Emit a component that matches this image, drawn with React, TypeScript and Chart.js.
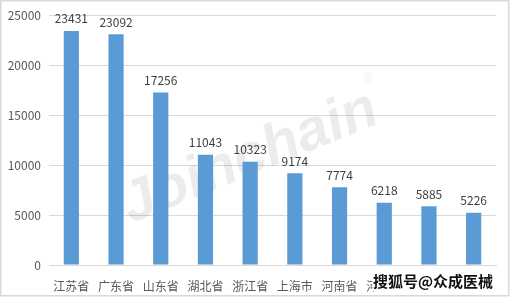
import React, { useEffect, useRef } from "react";
import { Chart, registerables } from "chart.js";

Chart.register(...registerables);

const categories = ["江苏省", "广东省", "山东省", "湖北省", "浙江省", "上海市", "河南省", "河北省", "北京市", "湖南省"];
const values = [23431, 23092, 17256, 11043, 10323, 9174, 7774, 6218, 5885, 5226];
const yTicks = [0, 5000, 10000, 15000, 20000, 25000];

const FONT = '"Noto Sans CJK SC", "Microsoft YaHei", sans-serif';

const framePlugin = {
  id: "frame",
  beforeDraw(chart: any) {
    const { ctx, width, height } = chart;
    ctx.save();
    ctx.fillStyle = "#ffffff";
    ctx.fillRect(0, 0, width, height);
    ctx.strokeStyle = "#d9d9d9";
    ctx.lineWidth = 1.5;
    ctx.strokeRect(0.75, 0.75, width - 3, height - 3);
    ctx.restore();
  },
  beforeDatasetsDraw(chart: any) {
    const { ctx } = chart;
    ctx.save();
    ctx.translate(250, 158);
    ctx.rotate((-22 * Math.PI) / 180);
    ctx.fillStyle = "rgba(0,0,0,0.075)";
    ctx.font = 'italic bold 58px "Liberation Sans", Arial, sans-serif';
    ctx.textAlign = "center";
    ctx.textBaseline = "middle";
    ctx.fillText("Joinchain", 0, 0);
    ctx.font = '14px "Liberation Sans", Arial, sans-serif';
    ctx.fillText("®", 140, -30);
    ctx.restore();
  },
  afterDatasetsDraw(chart: any) {
    const { ctx } = chart;
    const meta = chart.getDatasetMeta(0);
    ctx.save();
    ctx.fillStyle = "#404040";
    ctx.font = `12px ${FONT}`;
    ctx.textAlign = "center";
    ctx.textBaseline = "bottom";
    meta.data.forEach((bar: any, i: number) => {
      ctx.fillText(String(values[i]), bar.x, bar.y - 6);
    });
    ctx.restore();
  },
  afterDraw(chart: any) {
    const { ctx } = chart;
    ctx.save();
    ctx.fillStyle = "#ffffff";
    ctx.fillRect(374, 271, 128, 21);
    ctx.font = `bold 15px ${FONT}`;
    ctx.textAlign = "left";
    ctx.textBaseline = "middle";
    ctx.lineWidth = 3;
    ctx.strokeStyle = "#ffffff";
    ctx.lineJoin = "round";
    const t = "搜狐号@众成医械";
    ctx.strokeText(t, 373, 281);
    ctx.fillStyle = "#111111";
    ctx.fillText(t, 373, 281);
    ctx.restore();
  },
};

export default function App() {
  const ref = useRef<HTMLCanvasElement>(null);
  useEffect(() => {
    document.body.style.margin = "0";
    const chart = new Chart(ref.current!, {
      type: "bar",
      data: {
        labels: categories,
        datasets: [
          {
            data: values,
            backgroundColor: "#5b9bd5",
            barPercentage: 0.34,
            categoryPercentage: 1,
          },
        ],
      },
      options: {
        animation: false,
        responsive: false,
        devicePixelRatio: 1,
        layout: { padding: { top: 15, right: 15, left: 0, bottom: 0 } },
        plugins: { legend: { display: false }, tooltip: { enabled: false } },
        scales: {
          x: {
            grid: { display: false },
            border: { color: "#d9d9d9" },
            ticks: { color: "#595959", font: { size: 12, family: FONT }, padding: 6, maxRotation: 0, autoSkip: false },
            afterFit(scale: any) {
              scale.height = 33;
            },
          },
          y: {
            min: 0,
            max: 25000,
            afterBuildTicks(scale: any) {
              scale.ticks = yTicks.map((v) => ({ value: v }));
            },
            grid: { color: "#d9d9d9", drawTicks: false },
            border: { display: false },
            ticks: {
              color: "#595959",
              font: { size: 12, family: FONT },
              padding: 8,
              callback: (v: any) => String(v),
            },
            afterFit(scale: any) {
              scale.width = 49;
            },
          },
        },
      },
      plugins: [framePlugin],
    });
    return () => chart.destroy();
  }, []);
  return <canvas ref={ref} width={511} height={298} style={{ display: "block" }} />;
}
